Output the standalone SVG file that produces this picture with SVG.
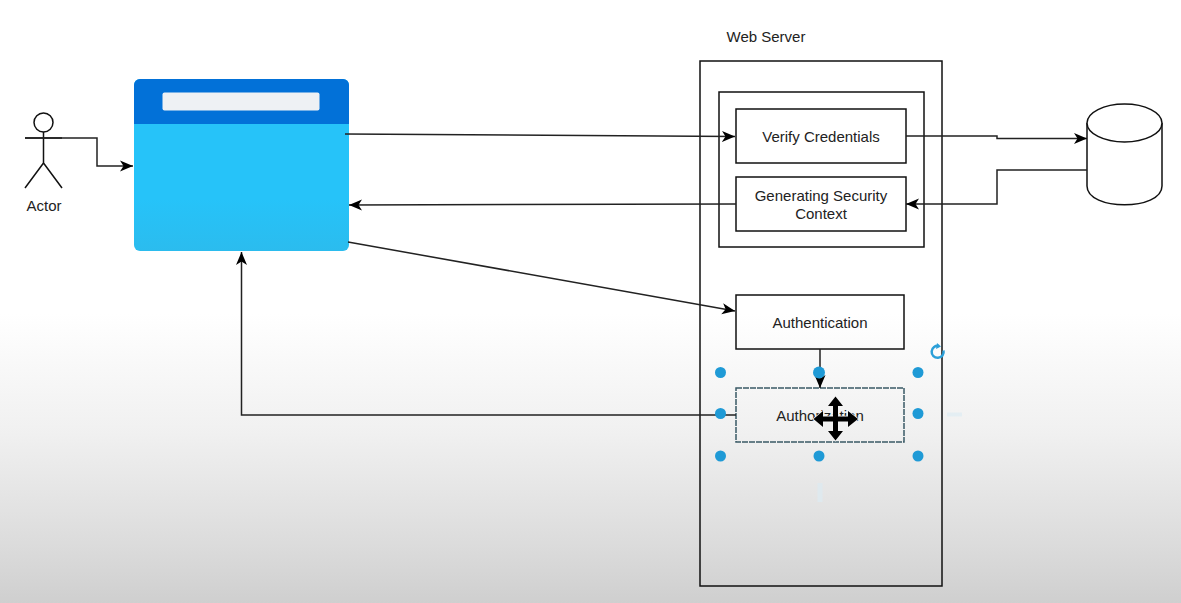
<svg xmlns="http://www.w3.org/2000/svg" width="1181" height="603" viewBox="0 0 1181 603">
<style>
.box{fill:none;stroke:#111;stroke-width:1.5}
.line{fill:none;stroke:#222;stroke-width:1.5}
.t{font-family:"Liberation Sans",Arial,sans-serif;font-size:15px;fill:#222;text-anchor:middle}
.h{fill:#1f9ad6}
</style>
<defs>
<linearGradient id="bg" x1="0" y1="0" x2="0" y2="1">
<stop offset="0" stop-color="#fff"/><stop offset="0.52" stop-color="#fff"/><stop offset="0.72" stop-color="#f0f0f0"/><stop offset="0.9" stop-color="#dcdcdc"/><stop offset="1" stop-color="#cfcfcf"/>
</linearGradient>
<linearGradient id="body" x1="0" y1="0" x2="0" y2="1">
<stop offset="0" stop-color="#26c3f9"/><stop offset="0.7" stop-color="#26c3f9"/><stop offset="1" stop-color="#2bbcee"/>
</linearGradient>
<marker id="a" markerUnits="userSpaceOnUse" markerWidth="14" markerHeight="14" refX="13" refY="7" orient="auto"><path d="M0 1.500 L13 7 L0 12.500 L3.500 7Z" fill="#000"/></marker>
</defs>
<rect id="background" width="1181" height="603" fill="url(#bg)"/>
<g id="web-server"><rect class="box" x="700" y="61" width="242" height="525"/><text class="t" x="766" y="42">Web Server</text></g>
<g id="group-box"><rect class="box" x="719" y="92" width="205" height="155"/></g>
<g id="actor" fill="none" stroke="#111" stroke-width="1.500">
<circle cx="43.500" cy="122.500" r="9.500"/><path d="M43.500 132V163M25 138H62M43.500 163L25 188M43.500 163L62 188"/>
<text class="t" x="44" y="211" stroke="none">Actor</text>
</g>
<g id="browser">
<rect x="134" y="79" width="215" height="172" rx="6" fill="url(#body)"/>
<path d="M134 124V85a6 6 0 0 1 6-6H343a6 6 0 0 1 6 6V124Z" fill="#0271d8"/>
<rect x="162.500" y="92.500" width="157" height="18" rx="2" fill="#eef1f4"/>
</g>
<g id="verify"><rect class="box" x="736" y="109" width="170" height="54"/><text class="t" x="821" y="142">Verify Credentials</text></g>
<g id="security"><rect class="box" x="736" y="177" width="170" height="54"/><text class="t" x="821" y="201">Generating Security</text><text class="t" x="821" y="219">Context</text></g>
<g id="authentication"><rect class="box" x="736" y="295" width="168" height="54"/><text class="t" x="820" y="328">Authentication</text></g>
<g id="authorization"><rect x="736" y="388" width="168" height="54" fill="none" stroke="#3a5a66" stroke-width="1.500" stroke-dasharray="6 1"/><text class="t" x="820" y="421">Authorization</text></g>
<g id="database" fill="#fff" stroke="#111" stroke-width="1.500">
<path d="M1087 123V186C1087 211 1162 211 1162 186V123"/>
<ellipse cx="1124.500" cy="123" rx="37.500" ry="19"/>
</g>
<g id="connectors">
<path class="line" marker-end="url(#a)" d="M25 138H97V166H133"/>
<path class="line" marker-end="url(#a)" d="M345 134L735 136.500"/>
<path class="line" marker-end="url(#a)" d="M906 136H997V138.500H1087"/>
<path class="line" marker-end="url(#a)" d="M1087 170H997V204H906"/>
<path class="line" marker-end="url(#a)" d="M736 204L349 205"/>
<path class="line" marker-end="url(#a)" d="M348 242L735 311"/>
<path class="line" marker-end="url(#a)" d="M820 349V388"/>
<path class="line" marker-end="url(#a)" d="M736 415H241.500V252"/>
</g>
<g id="selection">
<circle class="h" cx="720.500" cy="372.500" r="5.500"/><circle class="h" cx="819" cy="372.500" r="6"/><circle class="h" cx="918" cy="372.500" r="5.500"/>
<circle class="h" cx="720.500" cy="413.500" r="5.500"/><circle class="h" cx="918" cy="413.500" r="5.500"/>
<circle class="h" cx="720.500" cy="456" r="5.500"/><circle class="h" cx="819" cy="456" r="5.500"/><circle class="h" cx="918" cy="456" r="5.500"/>
<path d="M943.500 350.500A6 6 0 1 1 939 346" fill="none" stroke="#2b9fd8" stroke-width="2.500"/>
<path d="M937 343L941 346.500L936 349Z" fill="#2b9fd8"/>
<path d="M947 414.500H962" stroke="#e4eef3" stroke-width="4" fill="none"/>
<path d="M820 483V502" stroke="#dfe9ee" stroke-width="5" fill="none"/>
</g>
<g id="move-cursor"><path d="M835.500 396.500L843 406H838V416.500H848V411L858 419L848 427V421.500H838V431H843L835.500 440.500L828 431H833V421.500H823V427L813.500 419L823 411V416.500H833V406H828Z" fill="#000" stroke="#f4f4f4" stroke-width="1.500" paint-order="stroke"/></g>
</svg>
